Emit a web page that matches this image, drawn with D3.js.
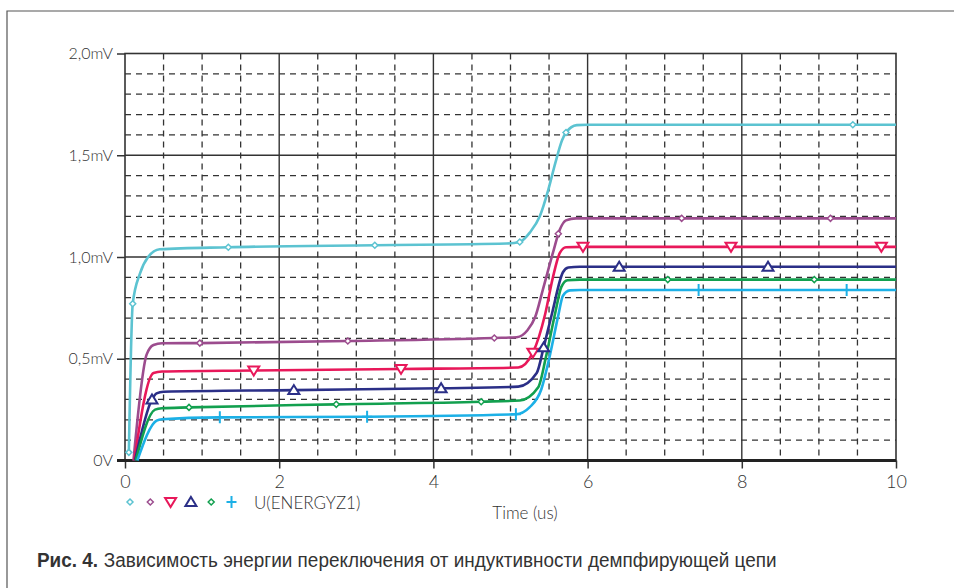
<!DOCTYPE html>
<html>
<head>
<meta charset="utf-8">
<script src="https://cdn.jsdelivr.net/npm/d3@7"></script>
<style>
  body { margin: 0; background: #fff; }
  svg text { fill: #333; }
  .axis-label { font-family: Lato, "Open Sans", sans-serif; font-size: 16px; font-weight: 300; }
  .caption { font-family: "Liberation Sans Narrow", "Arial Narrow", "Liberation Sans", sans-serif; font-size: 20px; }
</style>
</head>
<body>
<svg id="chart" width="954" height="588"></svg>
<script>
// readings: [time in us, value in mV]
const cyanPts = [[0.05, 0.04], [0.10, 0.77], [0.195, 0.92], [0.30, 1.0], [0.45, 1.038], [1.34, 1.048], [3.24, 1.058], [4.95, 1.066], [5.12, 1.074],
    [5.25, 1.12], [5.38, 1.2], [5.49, 1.33], [5.58, 1.46], [5.67, 1.575], [5.72, 1.612], [5.86, 1.648], [6.0, 1.65], [10, 1.65]];
const purplePts = [[0.11, 0], [0.28, 0.52], [0.37, 0.568], [0.48, 0.576], [0.97, 0.577], [2.89, 0.587], [4.79, 0.602], [5.08, 0.606],
    [5.22, 0.64], [5.32, 0.705], [5.42, 0.84], [5.55, 1.02], [5.64, 1.135], [5.72, 1.18], [5.85, 1.19], [10, 1.19]];
const redPts = [[0.12, 0], [0.37, 0.43], [0.48, 0.437], [1.67, 0.442], [3.58, 0.45], [5.1, 0.457], [5.29, 0.53], [5.45, 0.72],
    [5.55, 0.9], [5.64, 1.02], [5.72, 1.048], [5.94, 1.05], [10, 1.05]];
const navyPts = [[0.13, 0], [0.35, 0.3], [0.41, 0.33], [0.5, 0.338], [2.19, 0.346], [4.1, 0.355], [5.1, 0.363], [5.34, 0.43],
    [5.43, 0.556], [5.54, 0.725], [5.68, 0.925], [5.75, 0.948], [5.9, 0.952], [10, 0.952]];
const greenPts = [[0.14, 0], [0.39, 0.25], [0.48, 0.257], [0.83, 0.261], [2.74, 0.276], [4.62, 0.289], [5.12, 0.295], [5.36, 0.36],
    [5.46, 0.509], [5.58, 0.725], [5.66, 0.853], [5.74, 0.886], [5.9, 0.889], [10, 0.889]];
const bluePts = [[0.16, 0], [0.41, 0.196], [0.48, 0.203], [1.23, 0.212], [3.14, 0.215], [5.07, 0.227], [5.25, 0.262], [5.4, 0.35],
    [5.51, 0.515], [5.62, 0.713], [5.68, 0.81], [5.77, 0.836], [5.9, 0.838], [10, 0.838]];

// times where the symbols sit on each trace
const cyanMarks = [0.05, 0.10, 1.34, 3.24, 5.12, 5.72, 9.44];
const purpleMarks = [0.97, 2.89, 4.79, 5.62, 7.22, 9.15];
const redMarks = [1.67, 3.58, 5.29, 5.94, 7.86, 9.81];
const navyMarks = [0.35, 2.19, 4.10, 5.43, 6.41, 8.34];
const greenMarks = [0.83, 2.74, 4.62, 7.04, 8.94];
const blueMarks = [1.23, 3.14, 5.07, 7.44, 9.36];

const xTicks = [0, 2, 4, 6, 8, 10];
const yTicks = [0, 0.5, 1.0, 1.5, 2.0];
const yTickLabels = ["0V", "0,5mV", "1,0mV", "1,5mV", "2,0mV"];
const legendTitle = "U(ENERGYZ1)";
const xTitle = "Time (us)";
const captionBold = "Рис. 4.";
const captionText = "Зависимость энергии переключения от индуктивности демпфирующей цепи";

const series = [
    { pts: cyanPts, marks: cyanMarks, color: "#5cc3d1", sym: "diamond" },
    { pts: purplePts, marks: purpleMarks, color: "#9c4c8e", sym: "diamond" },
    { pts: redPts, marks: redMarks, color: "#e8185a", sym: "down" },
    { pts: navyPts, marks: navyMarks, color: "#2b2f87", sym: "up" },
    { pts: greenPts, marks: greenMarks, color: "#12a04f", sym: "diamond" },
    { pts: bluePts, marks: blueMarks, color: "#1cb0e6", sym: "plus" }
];

const svg = d3.select("#chart");
const x = d3.scaleLinear().domain([0, 10]).range([125, 896]);
const y = d3.scaleLinear().domain([0, 2]).range([460.5, 53.5]);

// outer frame of the figure
svg.append("path")
    .attr("d", "M7,588 V11 H954")
    .attr("fill", "none")
    .attr("stroke", "#555")
    .attr("stroke-width", 1.2);

// grid: every 0.5us and every 0.1mV, solid on the majors
const grid = svg.append("g");
d3.range(1, 20).forEach(i => {
    const t = i * 0.5;
    grid.append("line")
        .attr("x1", x(t)).attr("x2", x(t))
        .attr("y1", y(2)).attr("y2", y(0))
        .attr("stroke", "#333")
        .attr("stroke-width", i % 4 === 0 ? 1.4 : 1.3)
        .attr("stroke-dasharray", i % 4 === 0 ? null : "6,5");
});
d3.range(1, 20).forEach(i => {
    const v = i * 0.1;
    grid.append("line")
        .attr("x1", x(0)).attr("x2", x(10))
        .attr("y1", y(v)).attr("y2", y(v))
        .attr("stroke", "#333")
        .attr("stroke-width", i % 5 === 0 ? 1.4 : 1.3)
        .attr("stroke-dasharray", i % 5 === 0 ? null : "6,5");
});

// axes
const xAxis = d3.axisBottom(x).tickValues(xTicks).tickSize(8).tickPadding(7).tickFormat(d3.format("d"));
const yAxis = d3.axisLeft(y).tickValues(yTicks).tickSize(8).tickPadding(4).tickFormat((d, i) => yTickLabels[i]);

svg.append("g")
    .attr("transform", `translate(0,${y(0)})`)
    .call(xAxis)
    .call(g => g.select(".domain").remove())
    .call(g => g.selectAll("line").attr("stroke", "#333").attr("stroke-width", 1.5))
    .call(g => g.selectAll("text").attr("class", "axis-label").attr("fill", "#333").style("font-size", "18px"));

svg.append("g")
    .attr("transform", `translate(${x(0)},0)`)
    .call(yAxis)
    .call(g => g.select(".domain").remove())
    .call(g => g.selectAll("line").attr("stroke", "#333").attr("stroke-width", 1.5))
    .call(g => g.selectAll("text").attr("class", "axis-label").attr("fill", "#333"));

// plot frame
svg.append("rect")
    .attr("x", x(0)).attr("y", y(2))
    .attr("width", x(10) - x(0)).attr("height", y(0) - y(2))
    .attr("fill", "none").attr("stroke", "#333").attr("stroke-width", 1.6);
svg.append("line")
    .attr("x1", x(0) - 8).attr("x2", x(10))
    .attr("y1", y(0)).attr("y2", y(0))
    .attr("stroke", "#222").attr("stroke-width", 3);

const line = d3.line()
    .x(d => x(d[0]))
    .y(d => y(d[1]))
    .curve(d3.curveMonotoneX);

function symbolPath(sym) {
    if (sym === "diamond") return "M0,-3 L3,0 L0,3 L-3,0 Z";
    if (sym === "down") return "M-5.5,-4 L5.5,-4 L0,5 Z";
    if (sym === "up") return "M-5.5,4 L5.5,4 L0,-5 Z";
    return "M0,-6 V6 M-5,0 H5";
}

// find the point on a drawn path at a given pixel x
function pointAtX(node, px) {
    let lo = 0, hi = node.getTotalLength();
    for (let k = 0; k < 40; k++) {
        const mid = (lo + hi) / 2;
        if (node.getPointAtLength(mid).x < px) lo = mid; else hi = mid;
    }
    return node.getPointAtLength((lo + hi) / 2);
}

const plot = svg.append("g");
series.forEach(s => {
    const path = plot.append("path")
        .datum(s.pts)
        .attr("d", line)
        .attr("fill", "none")
        .attr("stroke", s.color)
        .attr("stroke-width", 2.6)
        .attr("stroke-linejoin", "round");
    s.path = path.node();
});
series.forEach(s => {
    plot.selectAll(null)
        .data(s.marks)
        .join("path")
        .attr("transform", t => {
            const p = pointAtX(s.path, x(t));
            return `translate(${p.x},${p.y})`;
        })
        .attr("d", symbolPath(s.sym))
        .attr("fill", s.sym === "plus" ? "none" : "#fff")
        .attr("stroke", s.color)
        .attr("stroke-width", s.sym === "diamond" ? 1.5 : 2);
});

// legend row
const legend = svg.append("g").attr("transform", "translate(0,502)");
legend.selectAll("path")
    .data(series)
    .join("path")
    .attr("transform", (d, i) => `translate(${130 + i * 20.3},0)`)
    .attr("d", d => symbolPath(d.sym))
    .attr("fill", d => d.sym === "plus" ? "none" : "#fff")
    .attr("stroke", d => d.color)
    .attr("stroke-width", d => d.sym === "diamond" ? 1.5 : 2);
legend.append("text")
    .attr("class", "axis-label")
    .attr("x", 254).attr("y", 7)
    .style("font-size", "17px")
    .text(legendTitle);

svg.append("text")
    .attr("class", "axis-label")
    .attr("x", 525).attr("y", 519)
    .attr("text-anchor", "middle")
    .style("font-size", "17px")
    .text(xTitle);

// caption, squeezed to the narrow face of the original
const cap = svg.append("text")
    .attr("class", "caption")
    .attr("x", 0).attr("y", 0);
cap.append("tspan").attr("font-weight", "bold").text(captionBold);
cap.append("tspan").attr("dx", 6).text(captionText);
const capWidth = cap.node().getComputedTextLength();
const squeeze = Math.min(1, 734 / capWidth);
cap.attr("transform", `translate(37,567) scale(${squeeze},1)`);
</script>
</body>
</html>
